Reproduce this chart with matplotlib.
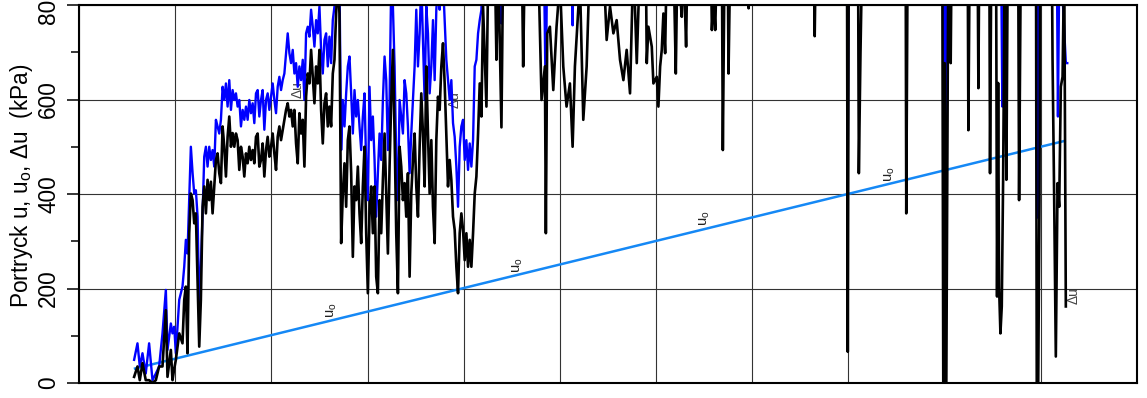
import matplotlib
matplotlib.use("Agg")
import matplotlib.pyplot as plt
from matplotlib.ticker import FixedLocator, NullFormatter

plt.rcParams['font.family'] = ['Liberation Sans', 'DejaVu Sans']
plt.rcParams['mathtext.fontset'] = 'custom'
plt.rcParams['mathtext.rm'] = 'Liberation Sans'

# ---- Sounding data: depth (m) and pore pressures (kPa) ----
# Shallow part, irregular readings
depth_top = [0.573, 0.608, 0.632, 0.660, 0.694, 0.729, 0.764, 0.799, 0.833, 0.868, 0.903, 0.920,
             0.955, 0.972, 0.990, 1.007, 1.042, 1.076, 1.094, 1.111, 1.128, 1.146, 1.163, 1.181,
             1.198, 1.215, 1.233, 1.250, 1.267, 1.285]
u_top = [49, 84, 35, 63, 20, 84, 6, 20, 35, 105, 197, 70,
         126, 105, 119, 63, 176, 204, 246, 303, 274, 387, 500, 444,
         401, 408, 352, 154, 246, 359]
du_top = [13, 35, 6, 42, 6, 6, 0, 6, 35, 35, 154, 13,
          70, 6, 30, 49, 105, 84, 176, 204, 63, 317, 401, 387,
          338, 359, 218, 77, 176, 373]

# Middle part, logged at a regular interval
depth_mid_start = 1.302
depth_mid_step = 0.01736
u_mid = [479, 500, 458, 500, 472, 493, 458, 557, 543, 528, 557, 627, 599, 634, 585, 641, 578, 620,
         599, 613, 585, 599, 543, 578, 557, 585, 557, 599, 571, 592, 550, 613, 620, 564, 599, 620,
         536, 599, 613, 578, 606, 634, 599, 571, 627, 648, 620, 641, 655, 698, 740, 698, 677, 705,
         655, 677, 627, 670, 641, 684, 599, 740, 754, 733, 790, 754, 712, 768, 740, 797, 705, 655,
         726, 740, 670, 733, 677, 768, 797, 850, 850, 850, 493, 599, 543, 613, 670, 691, 613, 528,
         620, 564, 599, 543, 493, 564, 613, 458, 387, 627, 514, 564, 472, 352, 444, 528, 472, 599,
         691, 641, 493, 599, 850, 797, 670, 472, 387, 599, 564, 528, 641, 613, 543, 444, 528, 599,
         670, 790, 670, 740, 850, 726, 599, 797, 740, 613, 670, 768, 641, 790, 850, 790, 850, 850,
         768, 684, 641, 599, 641, 550, 521, 458, 373, 500, 543, 557, 472, 514, 451, 507, 458, 514,
         670, 684, 740, 768]
du_mid = [416, 359, 430, 387, 426, 359, 416, 472, 486, 444, 423, 543, 500, 437, 521, 564, 500, 529,
          500, 528, 514, 451, 500, 479, 437, 486, 465, 500, 472, 493, 465, 521, 528, 458, 472, 507,
          437, 493, 521, 479, 500, 528, 486, 451, 521, 543, 514, 535, 557, 578, 592, 564, 578, 543,
          578, 507, 465, 571, 528, 557, 458, 606, 655, 634, 705, 648, 592, 670, 634, 705, 578, 507,
          592, 613, 543, 585, 543, 655, 684, 782, 850, 782, 296, 401, 465, 373, 514, 543, 444, 267,
          416, 387, 458, 359, 296, 416, 500, 317, 190, 359, 416, 317, 416, 225, 190, 387, 317, 430,
          528, 401, 274, 458, 599, 705, 528, 317, 190, 500, 458, 387, 423, 352, 444, 225, 401, 472,
          528, 416, 352, 500, 613, 528, 416, 670, 528, 401, 514, 373, 296, 514, 606, 578, 670, 719,
          634, 528, 416, 472, 430, 352, 324, 246, 190, 317, 359, 324, 260, 317, 246, 303, 246, 317,
          401, 437, 528, 634]

# Deep part, readings around each dip (values above 800 run off the top)
depth_u_deep = [4.184, 4.201, 4.236, 4.253, 4.380, 4.392, 4.405, 4.800, 4.809, 4.830, 4.854, 4.868,
                5.120, 5.132, 5.145, 5.235, 5.243, 5.260, 7.985, 7.993, 8.003, 8.595, 8.601, 8.615,
                8.990, 9.005, 9.020, 9.585, 9.600, 9.615, 9.955, 9.965, 9.980, 10.165, 10.178, 10.195,
                10.260, 10.275]
u_deep = [790, 950, 840, 950, 950, 761, 950, 950, 860, 950, 578, 950,
          950, 757, 950, 950, 840, 950, 950, 470, 950, 950, 790, 950,
          950, 338, 950, 950, 585, 950, 950, 350, 950, 950, 564, 950,
          677, 677]
depth_du_deep = [4.184, 4.201, 4.236, 4.253, 4.323, 4.340, 4.358, 4.392, 4.410, 4.601, 4.618, 4.635,
                 4.774, 4.809, 4.844, 4.854, 4.868, 4.896, 4.931, 4.965, 5.000, 5.035, 5.069, 5.104,
                 5.132, 5.156, 5.208, 5.243, 5.278, 5.312, 5.451, 5.486, 5.521, 5.556, 5.590, 5.625,
                 5.660, 5.694, 5.729, 5.764, 5.799, 5.833, 5.893, 5.903, 5.920, 5.955, 5.972, 6.007,
                 6.024, 6.042, 6.059, 6.076, 6.094, 6.111, 6.181, 6.205, 6.222, 6.267, 6.285, 6.312,
                 6.326, 6.570, 6.580, 6.598, 6.615, 6.632, 6.684, 6.694, 6.712, 6.745, 6.753, 6.771,
                 6.955, 6.962, 6.970, 7.639, 7.649, 7.660, 7.985, 7.993, 8.003, 8.100, 8.108, 8.125,
                 8.142, 8.595, 8.601, 8.615, 8.976, 8.986, 9.000, 9.017, 9.038, 9.055, 9.063, 9.072,
                 9.240, 9.247, 9.260, 9.343, 9.351, 9.360, 9.465, 9.472, 9.485, 9.535, 9.545, 9.556,
                 9.566, 9.580, 9.594, 9.608, 9.625, 9.642, 9.656, 9.765, 9.774, 9.792, 9.950, 9.958,
                 9.972, 9.986, 9.993, 10.115, 10.122, 10.139, 10.156, 10.174, 10.191, 10.208, 10.226,
                 10.243, 10.260]
du_deep = [564, 797, 585, 850, 900, 684, 900, 541, 900, 950, 670, 900,
           900, 599, 670, 317, 740, 754, 620, 754, 850, 670, 585, 634,
           500, 670, 850, 557, 670, 900, 900, 726, 797, 740, 768, 684,
           641, 705, 613, 900, 677, 900, 900, 677, 754, 712, 634, 648,
           585, 670, 705, 782, 698, 900, 900, 655, 900, 775, 900, 712,
           900, 900, 747, 820, 747, 900, 900, 493, 900, 900, 655, 900,
           900, 793, 900, 900, 734, 900, 900, 66, 900, 900, 444, 698,
           900, 900, 359, 900, 900, -20, 677, -20, 900, 900, 677, 900,
           900, 535, 900, 900, 624, 900, 900, 444, 900, 900, 183, 635,
           204, 105, 162, 430, 900, 430, 900, 900, 387, 900, 900, -30,
           -30, 387, 900, 900, 684, 387, 56, 423, 373, 627, 648,
           900, 162]

# Hydrostatic pore pressure u0
depth_u0 = [0.57, 10.26]
u0_vals = [30, 513]

# In-line curve labels: (depth, kPa)
u0_label_depth = [2.63, 4.56, 6.51, 8.43]
u0_label_vals = [155, 250, 349, 442]
du_label_depth = [2.27, 3.91, 10.34]
du_label_vals = [620, 599, 186]

y_major = [0, 200, 400, 600, 800]
y_minor = [100, 300, 500, 700]
x_grid = list(range(0, 12))

# ---- assemble the logs ----
depth_mid_u = [depth_mid_start + depth_mid_step * i for i in range(len(u_mid))]
depth_mid_du = [depth_mid_start + depth_mid_step * i for i in range(len(du_mid))]
depth_u = depth_top + depth_mid_u + depth_u_deep
u_all = u_top + u_mid + u_deep
depth_du = depth_top + depth_mid_du + depth_du_deep
du_all = du_top + du_mid + du_deep

fig = plt.figure(figsize=(11.47, 3.98), dpi=100)
ax = fig.add_axes([79 / 1147, 15 / 398, 1058 / 1147, 378 / 398])

ax.set_xlim(0, 11)
ax.set_ylim(0, 800)

ax.plot(depth_u0, u0_vals, color='#1588f5', lw=1.8, zorder=3, solid_capstyle='butt')
ax.plot(depth_u, u_all, color='#0000ff', lw=1.7, zorder=4)
ax.plot(depth_du, du_all, color='#000000', lw=1.9, zorder=5)

for d, v in zip(u0_label_depth, u0_label_vals):
    ax.text(d, v, 'u$_\\mathregular{o}$', rotation=90, fontsize=10.5, color='#222222',
            ha='center', va='center', zorder=6)
for d, v in zip(du_label_depth, du_label_vals):
    ax.text(d, v, '\u0394u', rotation=90, fontsize=10, color='#444444',
            ha='center', va='center', zorder=2.5)

ax.xaxis.set_major_locator(FixedLocator(x_grid))
ax.xaxis.set_major_formatter(NullFormatter())
ax.tick_params(axis='x', length=0)
ax.yaxis.set_major_locator(FixedLocator(y_major))
ax.yaxis.set_minor_locator(FixedLocator(y_minor))
ax.set_yticklabels([str(v) for v in y_major])
ax.tick_params(axis='y', which='major', direction='out', length=8.6, width=1.1, pad=5,
               labelsize=16.3, labelrotation=90)
ax.tick_params(axis='y', which='minor', direction='out', length=5.8, width=1.1)
for lab in ax.get_yticklabels():
    lab.set_va('center')

ax.grid(True, which='major', axis='both', color='#333333', lw=0.8, zorder=1)
ax.set_axisbelow(True)
for s in ax.spines.values():
    s.set_linewidth(1.5)
    s.set_zorder(7)

ax.set_ylabel('Portryck u, u$_\\mathregular{o}$, \u0394u  (kPa)', fontsize=16.3)
ax.yaxis.set_label_coords(-0.0416, 0.521)

fig.savefig('out.png', dpi=100)
